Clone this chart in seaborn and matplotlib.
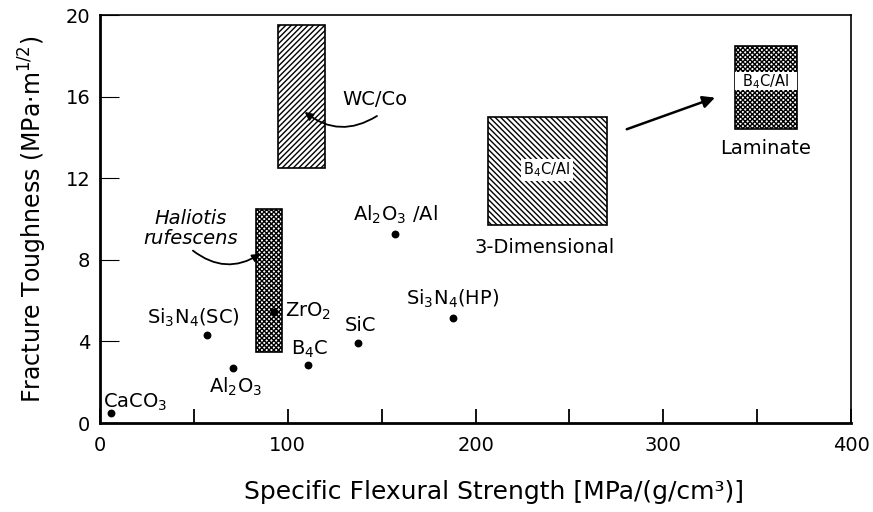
import matplotlib
matplotlib.use("Agg")
import matplotlib.pyplot as plt
import seaborn as sns
import pandas as pd

# ---- data ----
materials = ["CaCO3", "Si3N4(SC)", "Al2O3", "ZrO2", "B4C", "SiC", "Si3N4(HP)", "Al2O3/Al"]
strength = [6, 57, 71, 92.5, 111, 137.5, 188, 157]
toughness = [0.5, 4.3, 2.7, 5.45, 2.85, 3.9, 5.15, 9.25]

box_names = ["WC/Co", "Haliotis", "3D B4C/Al", "Laminate B4C/Al"]
box_x0 = [95, 83, 206.5, 338]
box_x1 = [120, 97, 270, 371]
box_y0 = [12.5, 3.5, 9.7, 14.4]
box_y1 = [19.5, 10.5, 15.0, 18.5]
box_hatch = ["//////", "xxxxxxx", "\\\\\\\\\\\\", "xxxxxxx"]

band_x0, band_x1 = [338], [371]
band_y0, band_y1 = [16.3], [17.2]

xticks = [0, 100, 200, 300, 400]
xminor = [50, 150, 250, 350]
yticks = [0, 4, 8, 12, 16, 20]

sns.set_theme(style="white")
plt.rcParams["font.family"] = ["DejaVu Sans"]
plt.rcParams["mathtext.fontset"] = "dejavusans"
plt.rcParams["hatch.linewidth"] = 1.0
plt.rcParams["hatch.color"] = "black"
plt.rcParams["text.color"] = "black"
plt.rcParams["axes.labelcolor"] = "black"

fig = plt.figure(figsize=(8.73, 5.12), dpi=100)
ax = fig.add_axes([0.1145, 0.1738, 0.8605, 0.7969])

# boxes
for x0, x1, y0, y1, h in zip(box_x0, box_x1, box_y0, box_y1, box_hatch):
    ax.bar(x0, y1 - y0, width=x1 - x0, bottom=y0, align="edge",
           facecolor="white", edgecolor="black", hatch=h, linewidth=1.2, zorder=2)
ax.bar(band_x0, [b - a for a, b in zip(band_y0, band_y1)],
       width=[b - a for a, b in zip(band_x0, band_x1)], bottom=band_y0,
       align="edge", facecolor="white", edgecolor="none", zorder=3)

# points
df = pd.DataFrame({"x": strength, "y": toughness, "m": materials})
sns.scatterplot(data=df, x="x", y="y", color="black", s=32, edgecolor="black",
                linewidth=0, ax=ax, zorder=4)

fs = 14
def T(x, y, s, **kw):
    kw.setdefault("fontsize", fs)
    kw.setdefault("ha", "center")
    kw.setdefault("va", "center")
    ax.text(x, y, s, color="black", zorder=5, **kw)

T(1.5, 1.0, r"CaCO$_3$", ha="left")
T(49.5, 5.15, r"Si$_3$N$_4$(SC)")
T(72, 1.75, r"Al$_2$O$_3$")
T(98.5, 5.45, r"ZrO$_2$", ha="left")
T(111.5, 3.6, r"B$_4$C")
T(138.5, 4.8, "SiC")
T(188, 6.1, r"Si$_3$N$_4$(HP)")
T(157.5, 10.2, r"Al$_2$O$_3$ /Al")
T(146.5, 15.85, "WC/Co")
T(48.5, 9.55, "Haliotis\nrufescens", style="italic", fontsize=14, linespacing=1.05)
T(237, 8.6, "3-Dimensional")
T(354.5, 13.45, "Laminate")
T(238, 12.4, r"B$_4$C/Al", fontsize=10.5,
  bbox=dict(facecolor="white", edgecolor="none", pad=1.5))
T(354.5, 16.72, r"B$_4$C/Al", fontsize=10.5)

# arrows
ax.annotate("", xy=(109, 15.25), xytext=(147.5, 15.05),
            arrowprops=dict(arrowstyle="-|>", color="black", lw=1.3,
                            connectionstyle="arc3,rad=-0.35", mutation_scale=12,
                            shrinkA=0, shrinkB=0), zorder=5)
ax.annotate("", xy=(85.5, 8.3), xytext=(49.5, 8.45),
            arrowprops=dict(arrowstyle="-|>", color="black", lw=1.3,
                            connectionstyle="arc3,rad=0.35", mutation_scale=12,
                            shrinkA=0, shrinkB=0), zorder=5)
ax.annotate("", xy=(327.5, 15.95), xytext=(280.5, 14.4),
            arrowprops=dict(arrowstyle="-|>", color="black", lw=1.8,
                            mutation_scale=18, shrinkA=0, shrinkB=0), zorder=5)

# axes styling
ax.set_xlim(0, 400)
ax.set_ylim(0, 20)
ax.set_xticks(xticks)
ax.set_xticks(xminor, minor=True)
ax.set_yticks(yticks)
ax.tick_params(axis="x", which="both", direction="in", length=10, width=1.3,
               labelsize=14, pad=9, colors="black", bottom=True)
ax.tick_params(axis="y", direction="in", length=14, width=0.8,
               labelsize=14, pad=7, colors="black", left=True)
for s in ["left", "bottom"]:
    ax.spines[s].set_linewidth(2.0)
for s in ["top", "right"]:
    ax.spines[s].set_linewidth(1.2)
for s in ax.spines.values():
    s.set_color("black")
    s.set_visible(True)

ax.set_xlabel("Specific Flexural Strength [MPa/(g/cm³)]", fontsize=18, color="black")
ax.xaxis.set_label_coords(0.525, -0.14)
ax.set_ylabel(r"Fracture Toughness (MPa·m$^{1/2}$)", fontsize=17, labelpad=12, color="black")

fig.savefig("out.png", dpi=100, facecolor="white")
